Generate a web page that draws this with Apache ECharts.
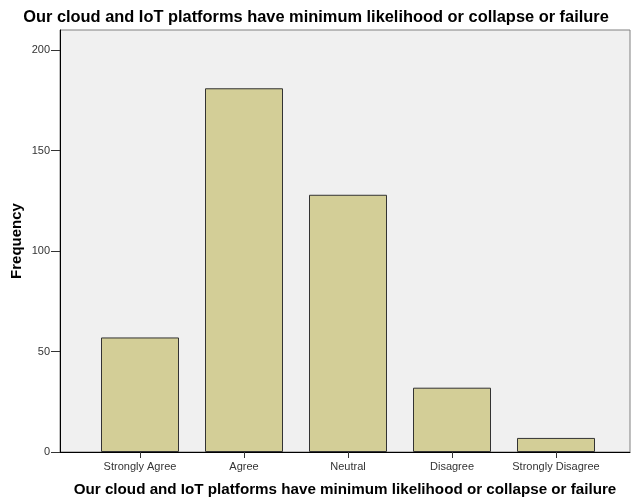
<!DOCTYPE html>
<html>
<head>
<meta charset="utf-8">
<script src="https://cdn.jsdelivr.net/npm/echarts@6/dist/echarts.min.js"></script>
<style>html,body{margin:0;padding:0;background:#fff}#c{width:632px;height:501px}</style>
</head>
<body>
<div id="c"></div>
<script>
const titleText = "Our cloud and IoT platforms have minimum likelihood or collapse or failure";
const categories = ["Strongly Agree", "Agree", "Neutral", "Disagree", "Strongly Disagree"];
const frequencies = [57, 181, 128, 32, 7];
const yTicks = [0, 50, 100, 150, 200];

const FONT = "'Liberation Sans', Arial, sans-serif";
const chart = echarts.init(document.getElementById('c'), null, {renderer: 'canvas'});
chart.setOption({
  animation: false,
  backgroundColor: '#ffffff',
  title: {
    text: titleText, left: 'center', top: 4,
    textStyle: {fontFamily: FONT, fontSize: 16.4, fontWeight: 'bold', color: '#000'}
  },
  grid: [
    {left: 60, right: 2, top: 30, bottom: 49, show: true, backgroundColor: '#f0f0f0', borderColor: '#808080', borderWidth: 1, outerBoundsMode: 'none', containLabel: false},
    {left: 88, right: 24, top: 30, bottom: 49, show: false, outerBoundsMode: 'none', containLabel: false}
  ],
  xAxis: [
    {gridIndex: 0, type: 'value', min: 0, max: 1,
     axisLine: {show: true, lineStyle: {color: '#000', width: 1}},
     axisTick: {show: false}, axisLabel: {show: false}, splitLine: {show: false},
     name: titleText, nameLocation: 'middle', nameGap: 30, nameMoveOverlap: false,
     nameTextStyle: {fontFamily: FONT, fontSize: 15.2, fontWeight: 'bold', color: '#000'}},
    {gridIndex: 1, type: 'category', data: categories,
     axisLine: {show: false},
     axisTick: {show: true, alignWithLabel: true, length: 6, lineStyle: {color: '#333'}},
     axisLabel: {fontFamily: FONT, fontSize: 11, color: '#333', margin: 9, interval: 0}}
  ],
  yAxis: [
    {gridIndex: 0, type: 'value', min: 0, max: 210, interval: 50,
     axisLine: {show: true, lineStyle: {color: '#000', width: 1}},
     axisTick: {show: true, length: 9, lineStyle: {color: '#333'}},
     axisLabel: {fontFamily: FONT, fontSize: 11, color: '#333', margin: 10, showMaxLabel: false,
       formatter: v => yTicks.includes(v) ? String(v) : ''},
     splitLine: {show: false},
     name: 'Frequency', nameLocation: 'middle', nameRotate: 90, nameGap: 36, nameMoveOverlap: false,
     nameTextStyle: {fontFamily: FONT, fontSize: 15, fontWeight: 'bold', color: '#000'}},
    {gridIndex: 1, type: 'value', min: 0, max: 210, show: false}
  ],
  series: [{
    type: 'bar', xAxisIndex: 1, yAxisIndex: 1,
    data: frequencies, barWidth: 78,
    itemStyle: {color: '#d3ce97', borderColor: '#333333', borderWidth: 1}
  }]
});
</script>
</body>
</html>
